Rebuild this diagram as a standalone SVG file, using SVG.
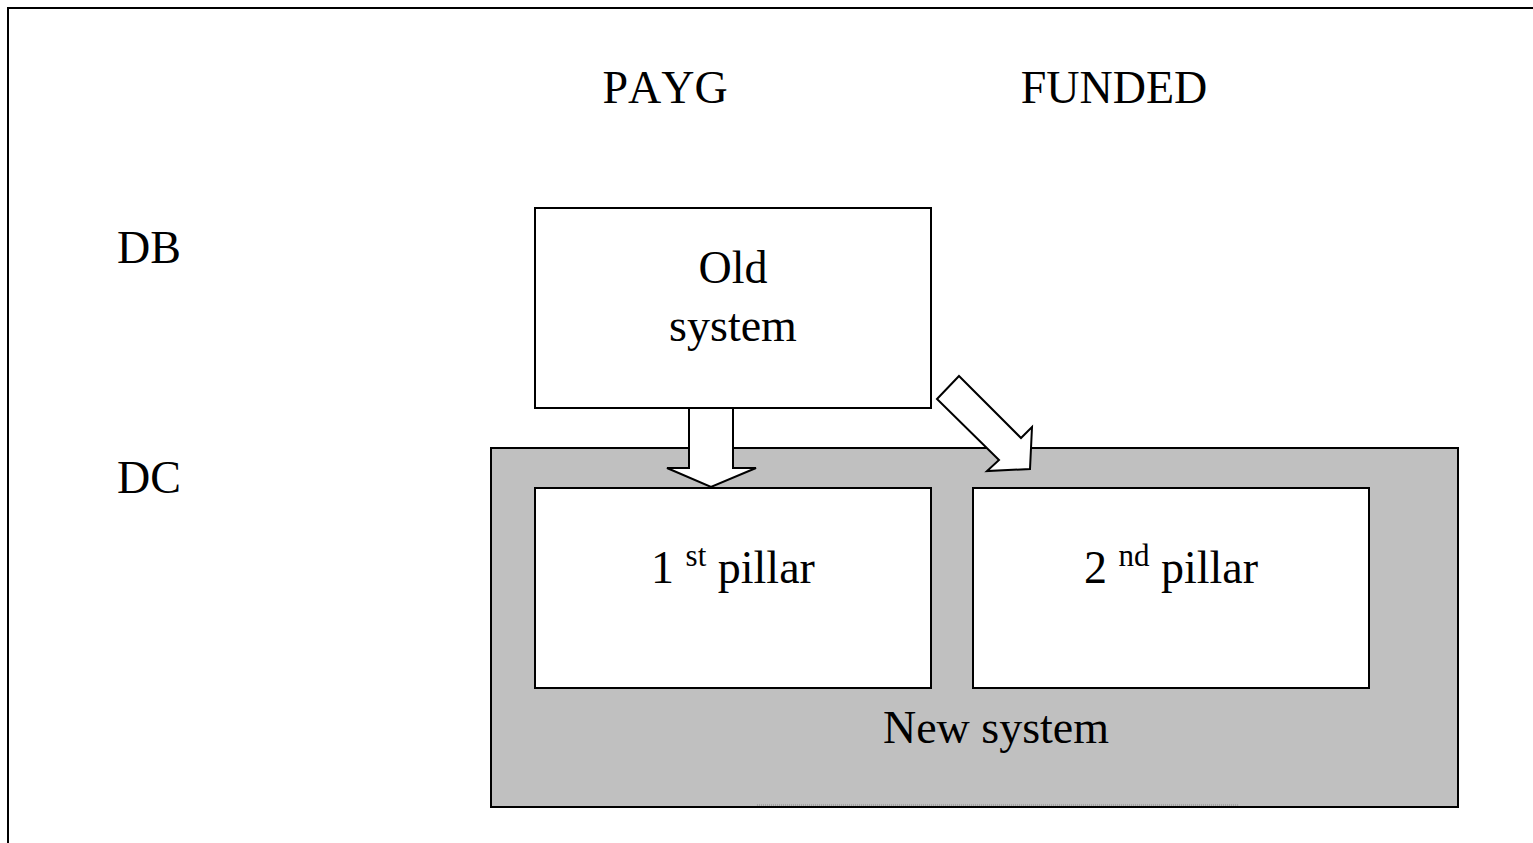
<svg xmlns="http://www.w3.org/2000/svg" width="1533" height="843" viewBox="0 0 1533 843">
  <style>
    .lbl { font-family: "Liberation Serif", "Times New Roman", serif; font-size: 46px; fill: #000; font-kerning: none; }
    .box { fill: #fff; stroke: #000; stroke-width: 2; }
    .arrow { fill: #fff; stroke: #000; stroke-width: 2; stroke-linejoin: miter; }
  </style>
  <rect width="1533" height="843" fill="#fff"/>

  <!-- page frame: top and left rules -->
  <path d="M8,843 V8 H1533" fill="none" stroke="#000" stroke-width="2"/>

  <!-- column and row headings -->
  <g id="headings">
    <text class="lbl" x="665" y="103" text-anchor="middle">PAYG</text>
    <text class="lbl" x="1114" y="103" text-anchor="middle">FUNDED</text>
    <text class="lbl" x="117" y="263">DB</text>
    <text class="lbl" x="117" y="493">DC</text>
  </g>

  <!-- new system container -->
  <g id="new-system">
    <rect x="491" y="448" width="967" height="359" fill="#c0c0c0" stroke="#000" stroke-width="2"/>
    <line x1="757" y1="805" x2="1238" y2="805" stroke="#888" stroke-width="1" stroke-dasharray="1 1"/>
    <text class="lbl" x="996" y="743" text-anchor="middle">New system</text>
  </g>

  <g id="old-system">
    <rect class="box" x="535" y="208" width="396" height="200"/>
    <text class="lbl" x="733" y="283" text-anchor="middle">Old</text>
    <text class="lbl" x="733" y="341" text-anchor="middle">system</text>
  </g>

  <g id="pillar-1">
    <rect class="box" x="535" y="488" width="396" height="200"/>
    <text class="lbl" x="733" y="583" text-anchor="middle">1 <tspan font-size="31" dy="-17">st</tspan><tspan dy="17"> pillar</tspan></text>
  </g>

  <g id="pillar-2">
    <rect class="box" x="973" y="488" width="396" height="200"/>
    <text class="lbl" x="1171" y="583" text-anchor="middle">2 <tspan font-size="31" dy="-17">nd</tspan><tspan dy="17"> pillar</tspan></text>
  </g>

  <!-- block arrows from the old system into the new one -->
  <g id="connectors">
    <polygon class="arrow" points="689,408 733,408 733,468 756,468 711,487 667,468 689,468"/>
    <polygon class="arrow" points="959,376 1021,438 1032,427 1030,469 987,471 999,460 937,399"/>
  </g>
</svg>
